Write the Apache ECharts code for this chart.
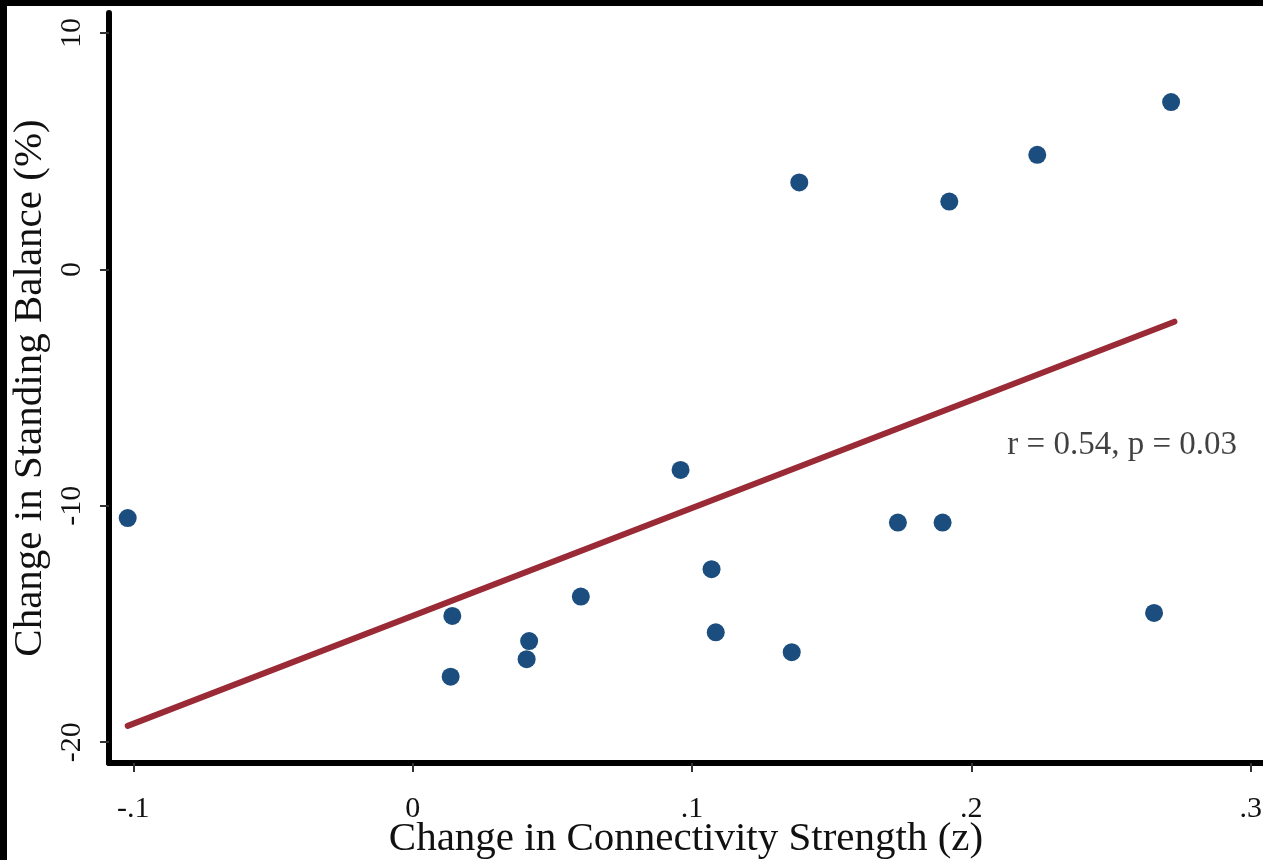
<!DOCTYPE html>
<html>
<head>
<meta charset="utf-8">
<script src="https://cdn.jsdelivr.net/npm/echarts@6/dist/echarts.min.js"></script>
<style>
html,body{margin:0;padding:0;background:#000;width:1263px;height:860px;overflow:hidden;}
#chart{position:absolute;left:7px;top:6px;width:1256px;height:854px;background:#fff;}
</style>
</head>
<body>
<div id="chart"></div>
<script>
// Data
const connectivityChange = [-0.102, 0.0142, 0.0136, 0.0417, 0.0408, 0.0602, 0.0959, 0.1070, 0.1085, 0.1357, 0.1384, 0.1737, 0.1897, 0.1921, 0.2236, 0.2715, 0.2654];
const balanceChange     = [-10.52, -14.66, -17.23, -15.72, -16.49, -13.84, -8.48, -12.68, -15.35, -16.19, 3.68, -10.71, -10.71, 2.87, 4.85, 7.08, -14.53];
const fitX = [-0.102, 0.2727];
const fitY = [-19.31, -2.21];
const xTickValues = [-0.1, 0, 0.1, 0.2, 0.3];
const xTickLabels = ['-.1', '0', '.1', '.2', '.3'];
const yTickValues = [-20, -10, 0, 10];
const yTickLabels = ['-20', '-10', '0', '10'];
const annotationText = 'r = 0.54, p = 0.03';
const annotationAt = [0.254, -7.45];
const xTitle = 'Change in Connectivity Strength (z)';
const yTitle = 'Change in Standing Balance (%)';

const FONT = '"Liberation Serif", "Times New Roman", serif';
const chart = echarts.init(document.getElementById('chart'));
const scatterData = connectivityChange.map((x, i) => [x, balanceChange[i]]);
const fitData = fitX.map((x, i) => [x, fitY[i]]);

chart.setOption({
  backgroundColor: '#fff',
  animation: false,
  grid: {left: 102, top: 7, right: 0, bottom: 97, containLabel: false, outerBoundsMode: 'none'},
  xAxis: {
    type: 'value', min: -0.1087, max: 0.3044,
    axisLine: {show: true, onZero: false, lineStyle: {color: '#000', width: 6}},
    axisTick: {show: true, length: 9, lineStyle: {color: '#333', width: 2}, customValues: xTickValues},
    axisLabel: {
      customValues: xTickValues, margin: 31, fontFamily: FONT, fontSize: 30, color: '#111',
      formatter: v => { const i = xTickValues.findIndex(t => Math.abs(t - v) < 1e-9); return i >= 0 ? xTickLabels[i] : ''; }
    },
    splitLine: {show: false},
    name: xTitle, nameLocation: 'middle', nameGap: 56, nameMoveOverlap: false,
    nameTextStyle: {fontFamily: FONT, fontSize: 41, color: '#111'}
  },
  yAxis: {
    type: 'value', min: -20.88, max: 10.85,
    axisLine: {show: true, onZero: false, lineStyle: {color: '#000', width: 6}},
    axisTick: {show: true, length: 9, lineStyle: {color: '#333', width: 2}, customValues: yTickValues},
    axisLabel: {
      customValues: yTickValues, rotate: 90, align: 'center', verticalAlign: 'bottom', margin: 22,
      fontFamily: FONT, fontSize: 30, color: '#111',
      formatter: v => { const i = yTickValues.findIndex(t => Math.abs(t - v) < 1e-9); return i >= 0 ? yTickLabels[i] : ''; }
    },
    splitLine: {show: false},
    name: yTitle, nameLocation: 'middle', nameGap: 58, nameRotate: 90, nameMoveOverlap: false,
    nameTextStyle: {fontFamily: FONT, fontSize: 41, color: '#111'}
  },
  series: [
    {
      type: 'line', data: fitData, symbol: 'none', silent: true, z: 2,
      lineStyle: {color: '#9a2a36', width: 6, cap: 'round'}
    },
    {
      type: 'scatter', data: scatterData, symbol: 'circle', symbolSize: 18, z: 3,
      itemStyle: {color: '#1b4d7e', opacity: 1}
    },
    {
      type: 'scatter', data: [annotationAt], symbolSize: 0, silent: true, z: 4,
      label: {show: true, position: 'inside', formatter: annotationText, fontFamily: FONT, fontSize: 33, color: '#111'}
    }
  ]
});
</script>
</body>
</html>
